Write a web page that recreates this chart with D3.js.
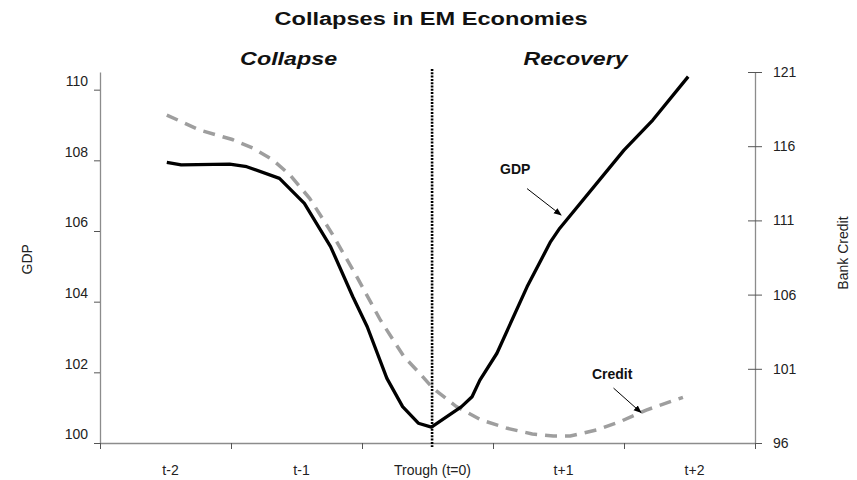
<!DOCTYPE html>
<html>
<head>
<meta charset="utf-8">
<script src="https://cdn.jsdelivr.net/npm/d3@7"></script>
<style>
    body { margin: 0; background: #fff; }
    text { font-family: "Liberation Sans", Arial, sans-serif; }
</style>
</head>
<body>
<div id="chart"></div>
<script>
// periods on the category axis
var categories = ["t-2", "t-1", "Trough (t=0)", "t+1", "t+2"];
var categoryT = [-2, -1, 0, 1, 2];

// GDP (left axis)
var gdpT = [-1.99, -1.88, -1.51, -1.38, -1.13, -0.94, -0.74, -0.57, -0.46, -0.31, -0.19, -0.07,
    0.03, 0.26, 0.34, 0.40, 0.53, 0.76, 0.94, 1.01, 1.50, 1.72, 1.99];
var gdpValues = [107.94, 107.87, 107.89, 107.82, 107.49, 106.78, 105.56, 104.14, 103.29, 101.83, 101.03, 100.56,
    100.45, 101.03, 101.31, 101.78, 102.54, 104.42, 105.70, 106.08, 108.29, 109.14, 110.37];

// bank credit (right axis)
var creditT = [-1.99, -1.74, -1.49, -1.33, -1.18, -1.05, -0.90, -0.73, -0.54, -0.36, -0.18, -0.06,
    0.04, 0.22, 0.41, 0.61, 0.80, 0.96, 1.09, 1.29, 1.47, 1.67, 1.95];
var creditValues = [118.10, 117.09, 116.45, 115.86, 115.07, 114.06, 112.49, 110.13, 107.21, 104.29, 101.82, 100.70,
    99.71, 98.45, 97.55, 96.99, 96.61, 96.47, 96.47, 96.88, 97.44, 98.22, 99.08];

// axis ticks
var gdpTicks = [100, 102, 104, 106, 108, 110];
var creditTicks = [96, 101, 106, 111, 116, 121];
var troughT = 0.035;

var width = 857, height = 480;
var margin = { top: 72, right: 102, bottom: 37, left: 100 };

var svg = d3.select("#chart")
    .append("svg")
    .attr("width", width)
    .attr("height", height);

// scales
var x = d3.scaleLinear()
    .domain([-2.5, 2.5])
    .range([margin.left, width - margin.right]);

var yL = d3.scaleLinear()
    .domain([100, 110.5])
    .range([height - margin.bottom, margin.top]);

var yR = d3.scaleLinear()
    .domain([96, 121])
    .range([height - margin.bottom, margin.top]);

var axisColor = "#8c8c8c";

// left axis
var leftAxis = svg.append("g")
    .attr("transform", "translate(" + margin.left + ",0)")
    .call(d3.axisLeft(yL).tickValues(gdpTicks).tickSize(6).tickSizeOuter(0).tickPadding(6));
leftAxis.selectAll("text").attr("dy", "-0.3em");

// right axis, ticks cross the line
var rightAxis = svg.append("g")
    .attr("transform", "translate(" + (width - margin.right) + ",0)")
    .call(d3.axisRight(yR).tickValues(creditTicks).tickSize(7).tickSizeOuter(0).tickPadding(11));
rightAxis.selectAll(".tick line").attr("x1", -7);

// bottom axis: ticks between categories, no labels
var bottomAxis = svg.append("g")
    .attr("transform", "translate(0," + (height - margin.bottom) + ")")
    .call(d3.axisBottom(x).tickValues(d3.range(-2.5, 3, 1)).tickSize(6).tickSizeOuter(0).tickFormat(""));

[leftAxis, rightAxis, bottomAxis].forEach(function(g) {
    g.select(".domain").attr("stroke", axisColor).attr("stroke-width", 1.3);
    g.selectAll(".tick line").attr("stroke", "#555");
    g.selectAll("text")
        .attr("fill", "#222")
        .attr("font-size", 14)
        .attr("font-family", "Liberation Sans, Arial, sans-serif");
});

// category labels
svg.selectAll(".cat-label")
    .data(categories)
    .enter()
    .append("text")
    .attr("class", "cat-label")
    .attr("x", (d, i) => x(categoryT[i]) + 5)
    .attr("y", height - 5)
    .attr("text-anchor", "middle")
    .attr("font-size", 14)
    .attr("fill", "#222")
    .text(d => d);

// axis titles
svg.append("text")
    .attr("transform", "translate(32," + yL(105.2) + ") rotate(-90)")
    .attr("text-anchor", "middle")
    .attr("font-size", 14)
    .attr("fill", "#222")
    .text("GDP");

svg.append("text")
    .attr("transform", "translate(848," + yR(108.8) + ") rotate(-90)")
    .attr("text-anchor", "middle")
    .attr("font-size", 14)
    .attr("fill", "#222")
    .text("Bank Credit");

// titles (the source is drawn a little wide)
svg.append("text")
    .attr("x", 431)
    .attr("y", 25)
    .attr("text-anchor", "middle")
    .attr("font-size", 18)
    .attr("font-weight", "bold")
    .attr("fill", "#111")
    .attr("textLength", 313)
    .attr("lengthAdjust", "spacingAndGlyphs")
    .text("Collapses in EM Economies");

svg.append("text")
    .attr("x", x(-1.06))
    .attr("y", 65)
    .attr("text-anchor", "middle")
    .attr("font-size", 19)
    .attr("font-weight", "bold")
    .attr("font-style", "italic")
    .attr("fill", "#111")
    .attr("textLength", 97)
    .attr("lengthAdjust", "spacingAndGlyphs")
    .text("Collapse");

svg.append("text")
    .attr("x", x(1.13))
    .attr("y", 65)
    .attr("text-anchor", "middle")
    .attr("font-size", 19)
    .attr("font-weight", "bold")
    .attr("font-style", "italic")
    .attr("fill", "#111")
    .attr("textLength", 104)
    .attr("lengthAdjust", "spacingAndGlyphs")
    .text("Recovery");

// trough marker
svg.append("line")
    .attr("x1", x(troughT))
    .attr("x2", x(troughT))
    .attr("y1", yL.range()[1] - 3)
    .attr("y2", yL.range()[0] + 4)
    .attr("stroke", "#000")
    .attr("stroke-width", 2.6)
    .attr("stroke-dasharray", "2,1.3");

// lines
var gdpLine = d3.line()
    .x((d, i) => x(gdpT[i]))
    .y(d => yL(d));

var creditLine = d3.line()
    .x((d, i) => x(creditT[i]))
    .y(d => yR(d));

svg.append("path")
    .datum(creditValues)
    .attr("fill", "none")
    .attr("stroke", "#9e9e9e")
    .attr("stroke-width", 3.5)
    .attr("stroke-dasharray", "12,8")
    .attr("d", creditLine);

svg.append("path")
    .datum(gdpValues)
    .attr("fill", "none")
    .attr("stroke", "#000")
    .attr("stroke-width", 3.3)
    .attr("stroke-linejoin", "round")
    .attr("d", gdpLine);

// arrow annotations
svg.append("defs")
    .append("marker")
    .attr("id", "arrow")
    .attr("viewBox", "0 0 10 10")
    .attr("refX", 9)
    .attr("refY", 5)
    .attr("markerWidth", 8)
    .attr("markerHeight", 8)
    .attr("orient", "auto")
    .append("path")
    .attr("d", "M0,1 L10,5 L0,9 z")
    .attr("fill", "#000");

var notes = [
    { label: "GDP", tx: 0.67, ty: 107.6, x1: 0.76, y1: 107.2, x2: 1.02, y2: 106.45, scale: "L" },
    { label: "Credit", tx: 1.41, ty: 100.3, x1: 1.42, y1: 99.7, x2: 1.63, y2: 98.05, scale: "R" }
];

notes.forEach(function(n) {
    var ys = n.scale == "L" ? yL : yR;
    svg.append("text")
        .attr("x", x(n.tx))
        .attr("y", ys(n.ty))
        .attr("text-anchor", "middle")
        .attr("font-size", 14)
        .attr("font-weight", "bold")
        .attr("fill", "#111")
        .text(n.label);
    svg.append("line")
        .attr("x1", x(n.x1))
        .attr("y1", ys(n.y1))
        .attr("x2", x(n.x2))
        .attr("y2", ys(n.y2))
        .attr("stroke", "#000")
        .attr("stroke-width", 1)
        .attr("marker-end", "url(#arrow)");
});
</script>
</body>
</html>
